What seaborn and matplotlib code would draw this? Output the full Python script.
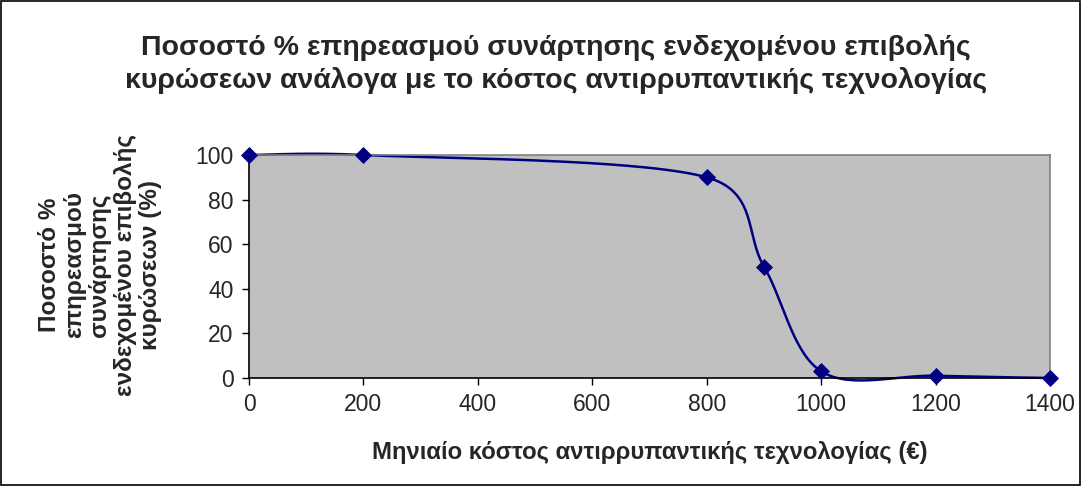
import numpy as np
import pandas as pd
import matplotlib
matplotlib.use("Agg")
import matplotlib.pyplot as plt
import seaborn as sns

# data
cost = [0, 200, 800, 900, 1000, 1200, 1400]
effect = [100, 100, 90, 50, 3, 1, 0]
x_ticks = [0, 200, 400, 600, 800, 1000, 1200, 1400]
y_ticks = [0, 20, 40, 60, 80, 100]

title = ("Ποσοστό % επηρεασμού συνάρτησης ενδεχομένου επιβολής\n"
         "κυρώσεων ανάλογα με το κόστος αντιρρυπαντικής τεχνολογίας")
xlabel = "Μηνιαίο κόστος αντιρρυπαντικής τεχνολογίας (€)"
ylabel = "Ποσοστό %\nεπηρεασμού\nσυνάρτησης\nενδεχομένου επιβολής\nκυρώσεων (%)"


def excel_smooth(pts, n=60):
    # Excel style "smoothed line" in screen space: cubic bezier,
    # control arm = (P[i+1]-P[i-1])/6, limited to half the segment length
    ext = np.vstack([pts[0], pts, pts[-1]])
    out = []
    t = np.linspace(0, 1, n)[:, None]
    for i in range(1, len(ext) - 2):
        p0, p1, p2, p3 = ext[i - 1], ext[i], ext[i + 1], ext[i + 2]
        d12 = np.linalg.norm(p2 - p1)
        d02 = np.linalg.norm(p2 - p0)
        d13 = np.linalg.norm(p3 - p1)
        f1 = 1 / 6 if d02 / 6 < d12 / 2 else d12 / (2 * d02)
        f2 = 1 / 6 if d13 / 6 < d12 / 2 else d12 / (2 * d13)
        b1 = p1 + (p2 - p0) * f1
        b2 = p2 - (p3 - p1) * f2
        seg = ((1 - t) ** 3) * p1 + 3 * ((1 - t) ** 2) * t * b1 + 3 * (1 - t) * t ** 2 * b2 + t ** 3 * p2
        out.append(seg if i == 1 else seg[1:])
    return np.vstack(out)


sns.set_style("white")
plt.rcParams['font.family'] = ['Liberation Sans', 'DejaVu Sans']

df = pd.DataFrame({"cost": cost, "effect": effect})

fig = plt.figure(figsize=(10.81, 4.86), dpi=100)
fig.patch.set_facecolor("white")
ax = fig.add_axes([249 / 1081, 1 - 378 / 486, (1050 - 249) / 1081, (378 - 155) / 486])
ax.set_facecolor("#c0c0c0")
ax.set_xlim(0, 1400)
ax.set_ylim(0, 100)

# smooth in pixel space like Excel does, then back to data units
pix = ax.transData.transform(df[["cost", "effect"]].to_numpy(dtype=float))
curve = ax.transData.inverted().transform(excel_smooth(pix))
df_curve = pd.DataFrame({"cost": curve[:, 0], "effect": curve[:, 1]})

navy = "#000080"
sns.lineplot(data=df_curve, x="cost", y="effect", sort=False, estimator=None,
             color=navy, linewidth=1.8, ax=ax, clip_on=False)
sns.scatterplot(data=df, x="cost", y="effect", marker="D", s=65, color=navy,
                edgecolor=navy, ax=ax, clip_on=False, zorder=5)

ax.set_xlim(0, 1400)
ax.set_ylim(0, 100)
ax.set_xticks(x_ticks)
ax.set_yticks(y_ticks)
ax.tick_params(axis="both", direction="out", length=5, width=1, color="black",
               labelsize=16.5, pad=6, left=True, bottom=True)

for side in ["top", "right"]:
    ax.spines[side].set_color("#808080")
    ax.spines[side].set_linewidth(1.2)
for side in ["left", "bottom"]:
    ax.spines[side].set_color("black")
    ax.spines[side].set_linewidth(1.2)

ax.set_xlabel("")
ax.set_ylabel("")
fig.text(650 / 1081, 1 - 452 / 486, xlabel, ha="center", va="center",
         fontsize=17.2, fontweight="bold")
fig.text(100 / 1081, 1 - 265 / 486, ylabel, rotation=90, ha="center", va="center",
         fontsize=17.5, fontweight="bold", linespacing=1.12)

fig.text(556 / 1081, 1 - 64 / 486, title, ha="center", va="center", fontsize=20.5,
         fontweight="bold", linespacing=1.3)

# outer chart border
fig.add_artist(plt.Rectangle((0.001, 0.002), 0.998, 0.996, transform=fig.transFigure,
                             fill=False, edgecolor="black", linewidth=1.2))

fig.savefig("out.png", dpi=100)
